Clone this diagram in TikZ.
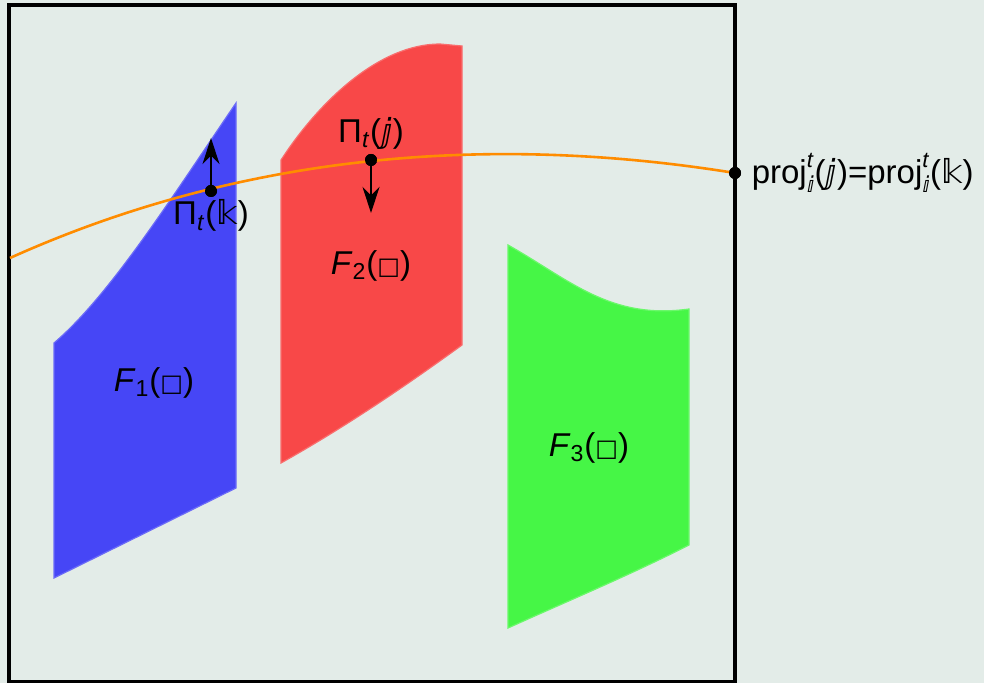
\documentclass[tikz,border=0pt]{standalone}
\usepackage{fontspec}
\setmainfont{Liberation Sans}
\newfontfamily\dsfont{DejaVu Sans}
\usepackage{tikz}
\usetikzlibrary{arrows.meta, positioning}

\definecolor{bgcol}{HTML}{E3ECE8}
\definecolor{bluecol}{HTML}{4646F6}
\definecolor{redcol}{HTML}{F84848}
\definecolor{greencol}{HTML}{46F646}
\definecolor{orangecol}{HTML}{FF8C00}

\newcommand{\supsub}[2]{\rlap{\raisebox{0.48em}{\fontsize{11}{11}\selectfont #1}}\raisebox{-0.3em}{\fontsize{11}{11}\selectfont #2}}
\newcommand{\sqbox}{{\dsfont\fontsize{12}{12}\selectfont □}}

\begin{document}
\begin{tikzpicture}[
			x=0.5pt, y=-0.5pt,
			font=\fontsize{16.5}{19}\selectfont,
			sheet/.style={
				line width=0.6pt
			},
			dot/.style={
				circle,
				fill=black,
				inner sep=0pt,
				minimum size=6pt
			},
			arrow/.style={
				-{Stealth[length=4.6mm, width=3mm]},
				line width=0.6pt
			},
			label/.style={
				inner sep=1pt,
				text centered
			}
			]
			
			% Background and frame
			\fill[bgcol] (0,0) rectangle (984,683);
			\useasboundingbox (0,0) rectangle (984,683);
			\draw[line width=1.6pt] (9,5) rectangle (735,682);
			
			% F1 sheet (blue)
			\filldraw[sheet, fill=bluecol, draw=bluecol!80!white]
				(236,103) -- (236,488) -- (54,578) -- (54,343)
				.. controls (110,295) and (170,200) .. cycle;
			
			% F2 sheet (red)
			\filldraw[sheet, fill=redcol, draw=redcol!80!white]
				(281,160) .. controls (320,100) and (380,44) .. (440,44)
				-- (462,46) -- (462,345)
				.. controls (400,390) and (340,430) .. (281,463) -- cycle;
			
			% F3 sheet (green)
			\filldraw[sheet, fill=greencol, draw=greencol!80!white]
				(508,245) .. controls (570,280) and (610,320) .. (689,309)
				-- (689,545)
				.. controls (630,575) and (570,600) .. (508,628) -- cycle;
			
			% Curve and points
			\coordinate (start) at (10,258);
			\node[dot] (pk) at (211,191) {};
			\node[dot] (pj) at (371,160) {};
			\node[dot] (pr) at (735,173) {};
			\draw[orangecol, line width=1.3pt] (start)
				.. controls (250,150) and (500,135) .. (pr.center);
			\node[dot] at (pk) {};
			\node[dot] at (pj) {};
			\node[dot] at (pr) {};
			
			% Arrows
			\coordinate (pk_up) at (211,138);
			\coordinate (pj_down) at (371,213);
			\draw[arrow] (pk) -- (pk_up);
			\draw[arrow] (pj) -- (pj_down);
			
			% Labels
			\node[label, below=0pt of pk] (pk_label) {Π\textsubscript{\textit{t}}({\dsfont 𝕜})};
			\node[label, above=1pt of pj] (pj_label) {Π\textsubscript{\textit{t}}({\dsfont ⅉ})};
			\node[label, right=4pt of pr, anchor=west] (pr_label)
				{proj\supsub{\textit{t}}{\dsfont ⅈ}({\dsfont ⅉ})=proj\supsub{\textit{t}}{\dsfont ⅈ}({\dsfont 𝕜})};
			\node[label] (f1_label) at (154,383) {\textit{F}\textsubscript{1}(\sqbox)};
			\node[label] (f2_label) at (371,266) {\textit{F}\textsubscript{2}(\sqbox)};
			\node[label] (f3_label) at (589,448) {\textit{F}\textsubscript{3}(\sqbox)};
			
		\end{tikzpicture}
\end{document}
